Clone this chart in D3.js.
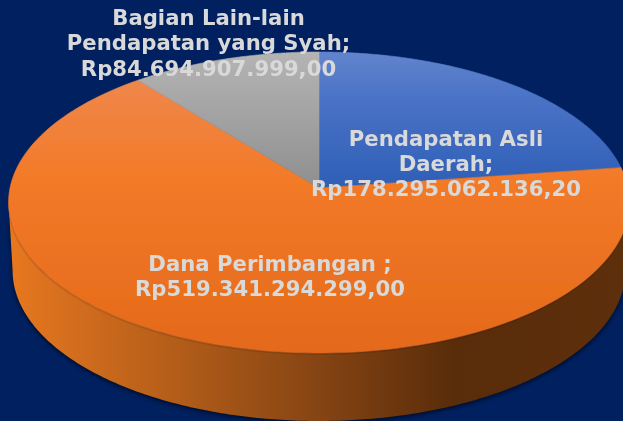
<!DOCTYPE html>
<html><head><meta charset="utf-8">
<script src="https://cdn.jsdelivr.net/npm/d3@7/dist/d3.min.js"></script>
<style>html,body{margin:0;padding:0;background:#002060;overflow:hidden}svg{display:block}</style>
</head><body><svg id="c" width="623" height="421"></svg>
<script>
const categories = ["Pendapatan Asli Daerah", "Dana Perimbangan", "Bagian Lain-lain Pendapatan yang Syah"];
const values = [178295062136.20, 519341294299.00, 84694907999.00];
const labelLines = [
  ["Pendapatan Asli", "Daerah;", "Rp178.295.062.136,20"],
  ["Dana Perimbangan ;", "Rp519.341.294.299,00"],
  ["Bagian Lain-lain", "Pendapatan yang Syah;", "Rp84.694.907.999,00"]
];
const labelPos = [[446,145.5],[270,271],[208.5,25]];
const topStops = [
  [[0,"#6184cc"],[0.35,"#4a72c6"],[1,"#2e5fb6"]],
  [[0,"#ee8c55"],[0.12,"#ef8648"],[0.42,"#f37a28"],[1,"#e4691a"]],
  [[0,"#b4b4b4"],[1,"#8f8f8f"]]
];

const W=623,H=421,cx=319,apexY=188,depth=68,p=0.0963,B=309,A=149.1,wallScale=0.987;
const svg=d3.select("#c");
const defs=svg.append("defs");
const sx=d3.scaleLinear().domain([-1,1]).range([cx-B,cx+B]);
const sy=d3.scaleLinear().domain([-1,1]).range([apexY-A,apexY+A]);
// perspective projection of a point on the unit disc
const proj=(u,v)=>{const w=1-p*v;return [sx(u/w),sy(v/w)];};
const polar=(a)=>proj(Math.sin(a),-Math.cos(a));
const arcs=d3.pie().sort(null).startAngle(0).endAngle(2*Math.PI)(values);
const line=d3.line();
const sample=(a0,a1,n=160)=>d3.range(n+1).map(i=>polar(a0+(a1-a0)*i/n));

svg.append("rect").attr("width",W).attr("height",H).attr("fill","#002060");

const wg=defs.append("linearGradient").attr("id","wall").attr("gradientUnits","userSpaceOnUse")
  .attr("x1",8).attr("x2",630).attr("y1",0).attr("y2",0);
[[0,"#e8781f"],[0.1,"#d46e1e"],[0.3,"#ad5a18"],[0.5,"#854413"],[0.72,"#592c0a"],[1,"#5e2f0b"]]
  .forEach(s=>wg.append("stop").attr("offset",s[0]).attr("stop-color",s[1]));
topStops.forEach((s,i)=>{
  const g=defs.append("linearGradient").attr("id","t"+i).attr("gradientUnits","userSpaceOnUse")
    .attr("x1",0).attr("x2",0).attr("y1",52).attr("y2",i==1?353:188);
  s.forEach(st=>g.append("stop").attr("offset",st[0]).attr("stop-color",st[1]));
});
const sh=defs.append("filter").attr("id","sh").attr("x","-5%").attr("y","-5%").attr("width","110%").attr("height","115%");
sh.append("feGaussianBlur").attr("stdDeviation",2.2);
const soft=defs.append("filter").attr("id","soft");
soft.append("feGaussianBlur").attr("stdDeviation",0.5);

// wall: front half between the silhouette extremes of the disc
const ext=Math.acos(-p);
const front=sample(ext,2*Math.PI-ext,240);
const lower=front.slice().reverse().map(d=>[cx+(d[0]-cx)*wallScale,d[1]+depth]);
const wallPts=front.concat(lower);
svg.append("path").attr("d",line(wallPts.map(d=>[d[0],d[1]+2]))+"Z").attr("fill","#000").attr("opacity",.6).attr("filter","url(#sh)");
svg.append("path").attr("d",line(wallPts)+"Z").attr("fill","url(#wall)");

// faint dark rim under the top face on the front
svg.append("path").attr("d",line(front.map(d=>[d[0],d[1]+1]))).attr("fill","none").attr("stroke","#000").attr("stroke-opacity",.1).attr("stroke-width",2).attr("filter","url(#soft)");

// top slices
arcs.forEach((a,i)=>{
  const pts=[proj(0,0)].concat(sample(a.startAngle,a.endAngle));
  svg.append("path").attr("d",line(pts)+"Z").attr("fill",`url(#t${i})`).attr("stroke",`url(#t${i})`).attr("stroke-width",.6).attr("filter","url(#soft)");
});

// labels
labelLines.forEach((ls,i)=>{
  const t=svg.append("text").attr("text-anchor","middle").attr("fill","#d9d9d9")
    .attr("font-family","'DejaVu Sans'").attr("font-weight","bold").attr("font-size",21.2)
    .attr("filter","url(#soft)");
  ls.forEach((s,j)=>t.append("tspan").attr("x",labelPos[i][0]).attr("y",labelPos[i][1]+j*25.3).text(s));
});
</script></body></html>
